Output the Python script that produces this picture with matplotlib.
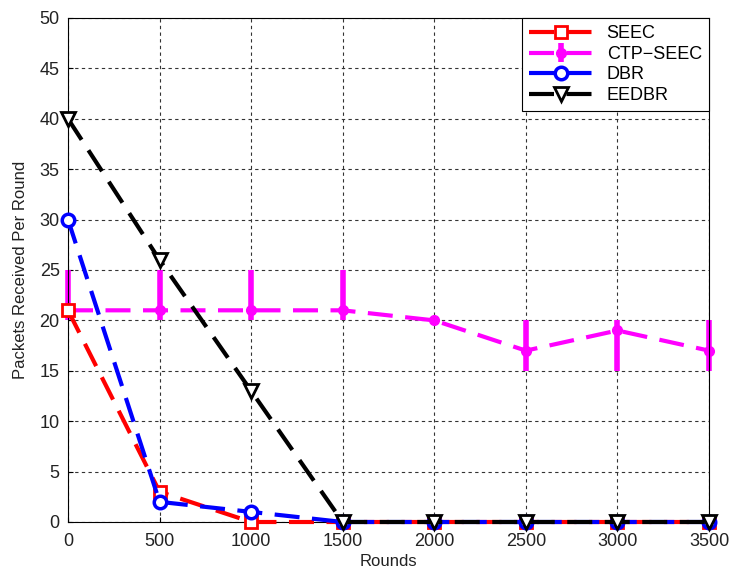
import matplotlib
matplotlib.use('Agg')
import matplotlib.pyplot as plt
import numpy as np

plt.rcParams['font.family'] = ['Liberation Sans', 'DejaVu Sans']

rounds = [0, 500, 1000, 1500, 2000, 2500, 3000, 3500]
seec = [21, 3, 0, 0, 0, 0, 0, 0]
ctp_seec = [21, 21, 21, 21, 20, 17, 19, 17]
ctp_low = [20, 20, 20, 20, 20, 15, 15, 15]
ctp_high = [25, 25, 25, 25, 20, 20, 20, 20]
dbr = [30, 2, 1, 0, 0, 0, 0, 0]
eedbr = [40, 26, 13, 0, 0, 0, 0, 0]

fig = plt.figure(figsize=(7.31, 5.72), dpi=100)
ax = fig.add_axes([68 / 731, 50 / 572, 641 / 731, 504 / 572])

dash = (0, (6, 3))
err = [np.array(ctp_seec) - np.array(ctp_low), np.array(ctp_high) - np.array(ctp_seec)]
h_ctp = ax.errorbar(rounds, ctp_seec, yerr=err, color='magenta', linestyle=dash, linewidth=3,
                    marker='o', markersize=7, elinewidth=4, capsize=0, label='CTP\u2212SEEC',
                    zorder=2)
h_ctp.lines[0].set_clip_on(False)
for art in h_ctp.lines[2]:
    art.set_clip_on(False)
h_seec, = ax.plot(rounds, seec, color='red', linestyle=dash, linewidth=3, marker='s',
                  markersize=8, markerfacecolor='white', markeredgewidth=2, label='SEEC',
                  zorder=3, clip_on=False)
h_dbr, = ax.plot(rounds, dbr, color='blue', linestyle=dash, linewidth=3, marker='o',
                 markersize=9, markerfacecolor='white', markeredgewidth=2.5, label='DBR',
                 zorder=4, clip_on=False)
h_eedbr, = ax.plot(rounds, eedbr, color='black', linestyle=dash, linewidth=3, marker='v',
                   markersize=10, markerfacecolor='white', markeredgewidth=2, label='EEDBR',
                   zorder=5, clip_on=False)

ax.set_xlim(0, 3500)
ax.set_ylim(0, 50)
ax.set_xticks(np.arange(0, 3501, 500))
ax.set_yticks(np.arange(0, 51, 5))
ax.grid(True, color='#333333', linestyle=(0, (3, 3)), linewidth=0.8)
ax.tick_params(direction='in', labelsize=13, labelcolor='#222222')
ax.tick_params(axis='x', pad=8)
ax.tick_params(axis='y', pad=6)
ax.set_xlabel('Rounds', fontsize=12, labelpad=3, color='#222222')
ax.set_ylabel('Packets Received Per Round', fontsize=12, labelpad=8, color='#222222')

leg = ax.legend([h_seec, h_ctp, h_dbr, h_eedbr], ['SEEC', 'CTP\u2212SEEC', 'DBR', 'EEDBR'],
                loc='upper right', fontsize=13, fancybox=False, edgecolor='black',
                framealpha=1, borderaxespad=0, handlelength=3.5, labelspacing=0.2)
leg.get_frame().set_linewidth(0.8)

fig.savefig('out.png', dpi=100)
